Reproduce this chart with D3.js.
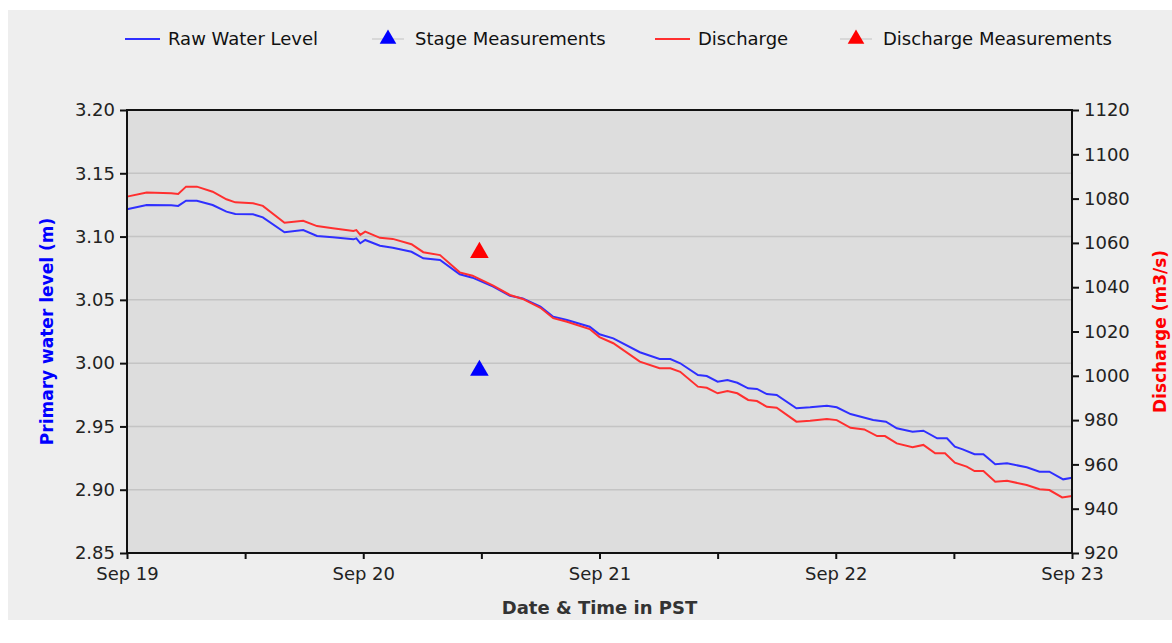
<html>
<head>
<title>Water Level and Discharge</title>
<script type="text/javascript" src="https://cdn.jsdelivr.net/npm/d3@7/dist/d3.min.js"></script>
<style type="text/css">
body { margin: 0; background: #fff; }
text { font-family: "DejaVu Sans", sans-serif; }
</style>
</head>
<body>
<script>
  // hours after Sep 19 00:00 PST
  var startDate = new Date(2011, 8, 19, 0, 0),
      endDate = new Date(2011, 8, 23, 0, 0);

  var levelHours = [0,2,4.5,5.2,6,7.1,8.7,10.1,11,12.8,13.8,16,17.9,19.3,20.9,23,23.3,23.7,24.2,25.7,27,28.9,30.1,31.8,33.8,35.1,37.2,38.9,40.2,42,43.3,44.7,47,48,49.4,52.1,54.1,55.2,56.2,58,58.9,60,61,62,63.1,64,65,66,68,69.4,71.1,72.1,73.5,75.8,77.1,78.2,79.8,80.9,82.3,83.3,84.1,84.9,86.1,87,88.2,89.4,91.4,92.7,93.7,95.1,96];
  var levelValues = [3.1216,3.1249,3.1247,3.1242,3.1283,3.1283,3.1249,3.1197,3.1178,3.1176,3.1152,3.1034,3.1052,3.1005,3.0994,3.0978,3.0986,3.0947,3.0973,3.0928,3.0912,3.0880,3.0828,3.0815,3.0702,3.0675,3.0604,3.0533,3.0512,3.0446,3.0367,3.0341,3.0288,3.0228,3.0196,3.0086,3.0033,3.0033,2.9999,2.9906,2.9898,2.9853,2.9867,2.9845,2.9801,2.9796,2.9756,2.9748,2.9643,2.9651,2.9664,2.9651,2.9598,2.9551,2.9537,2.9485,2.9458,2.9466,2.9406,2.9406,2.9340,2.9319,2.9280,2.9280,2.9201,2.9209,2.9177,2.9142,2.9142,2.9082,2.9095];

  var flowHours = [0,2,4.5,5.2,6,7.1,8.7,10.1,11,12.8,13.8,16,17.9,19.3,20.9,23,23.3,23.7,24.2,25.7,27,28.9,30.1,31.8,33.8,35.1,37.2,38.9,40.2,42,43.3,44.7,47,48,49.4,52.1,54.1,55.2,56.2,58,58.9,60,61,62,63.1,64,65,66,68,69.4,71.1,72.1,73.5,74.9,76.2,77,78.2,79.8,80.9,82.1,83.1,84.1,85.3,86.1,87,88.2,89.4,91.4,92.7,93.7,95,96];
  var flowValues = [1080.9,1082.7,1082.4,1082.1,1085.4,1085.4,1083.1,1079.7,1078.3,1077.9,1076.7,1069.1,1070.0,1067.6,1066.6,1065.4,1065.8,1063.6,1065.1,1062.3,1061.8,1059.4,1055.8,1054.5,1046.7,1045.2,1040.7,1036.5,1034.7,1030.7,1026.0,1024.4,1021.1,1017.5,1014.7,1006.4,1003.4,1003.4,1001.8,995.1,994.6,992.1,993.1,992.1,989.1,988.6,986.0,985.6,979.3,979.7,980.5,980.0,976.5,975.8,972.8,972.8,969.5,967.7,968.8,965.0,965.0,960.8,959.0,957.0,957.0,952.2,952.6,950.7,948.8,948.4,945.1,945.7];

  var stageHours = [35.8], stageValues = [2.995];
  var qmeasHours = [35.8], qmeasValues = [1056.1];

  var levelTicks = [2.85,2.90,2.95,3.00,3.05,3.10,3.15,3.20];
  var flowTicks = [920,940,960,980,1000,1020,1040,1060,1080,1100,1120];

  var legendItems = [
    {label:"Raw Water Level", color:"#2f2fff", kind:"line"},
    {label:"Stage Measurements", color:"#0000ff", kind:"tri"},
    {label:"Discharge", color:"#ff2f2f", kind:"line"},
    {label:"Discharge Measurements", color:"#ff0000", kind:"tri"}
  ];

  function toDate(h){ return new Date(startDate.getTime() + h*3600000); }

  var width = 1172, height = 643,
      plotLeft = 127, plotRight = 1072, plotTop = 110, plotBottom = 553;

  var svg = d3.select("body").append("svg").attr("width",width).attr("height",height);

  svg.append("rect").attr("x",8).attr("y",10).attr("width",width-8).attr("height",610).attr("fill","#eeeeee");

  var x = d3.scaleTime().domain([startDate,endDate]).range([plotLeft,plotRight]);
  var yL = d3.scaleLinear().domain([2.85,3.20]).range([plotBottom,plotTop]);
  var yR = d3.scaleLinear().domain([920,1120]).range([plotBottom,plotTop]);

  svg.append("rect").attr("x",plotLeft).attr("y",plotTop).attr("width",plotRight-plotLeft).attr("height",plotBottom-plotTop).attr("fill","#dddddd");

  // grid
  svg.append("g").selectAll("line").data(levelTicks.slice(1,-1)).enter().append("line")
    .attr("x1",plotLeft).attr("x2",plotRight)
    .attr("y1",function(d){return yL(d);}).attr("y2",function(d){return yL(d);})
    .attr("stroke","#c4c4c4").attr("stroke-width",1.5);

  // lines
  var levelData = levelHours.map(function(h,i){ return [toDate(h), levelValues[i]]; });
  var flowData = flowHours.map(function(h,i){ return [toDate(h), flowValues[i]]; });

  svg.append("path").datum(levelData)
    .attr("d", d3.line().x(function(d){return x(d[0]);}).y(function(d){return yL(d[1]);}))
    .attr("fill","none").attr("stroke","#2f2fff").attr("stroke-width",2);

  svg.append("path").datum(flowData)
    .attr("d", d3.line().x(function(d){return x(d[0]);}).y(function(d){return yR(d[1]);}))
    .attr("fill","none").attr("stroke","#ff2f2f").attr("stroke-width",2);

  var tri = d3.symbol().type(d3.symbolTriangle).size(150);

  svg.append("g").selectAll("path").data(stageHours).enter().append("path")
    .attr("d",tri)
    .attr("transform",function(d,i){ return "translate("+x(toDate(d))+","+(yL(stageValues[i])+1)+")"; })
    .attr("fill","#0000ff");

  svg.append("g").selectAll("path").data(qmeasHours).enter().append("path")
    .attr("d",tri)
    .attr("transform",function(d,i){ return "translate("+x(toDate(d))+","+(yR(qmeasValues[i])+1)+")"; })
    .attr("fill","#ff0000");

  // frame
  svg.append("rect").attr("x",plotLeft).attr("y",plotTop).attr("width",plotRight-plotLeft).attr("height",plotBottom-plotTop)
    .attr("fill","none").attr("stroke","#111").attr("stroke-width",2);

  // axes
  var xAxis = d3.axisBottom(x).ticks(d3.timeHour.every(12)).tickSize(6)
    .tickFormat(function(d){ return d.getHours()===0 ? d3.timeFormat("%b %d")(d) : ""; });
  var gx = svg.append("g").attr("transform","translate(0,"+plotBottom+")").call(xAxis);

  var gl = svg.append("g").attr("transform","translate("+plotLeft+",0)")
    .call(d3.axisLeft(yL).tickValues(levelTicks).tickFormat(d3.format(".2f")).tickSize(7));

  var gr = svg.append("g").attr("transform","translate("+plotRight+",0)")
    .call(d3.axisRight(yR).tickValues(flowTicks).tickFormat(d3.format("d")).tickSize(7));

  [gx,gl,gr].forEach(function(g){
    g.select(".domain").remove();
    g.selectAll(".tick line").attr("stroke","#111").attr("stroke-width",2);
    g.selectAll(".tick text").attr("fill","#222").style("font-size","18px").style("font-family","DejaVu Sans, sans-serif");
  });
  gx.selectAll(".tick text").attr("dy","1.0em");
  gl.selectAll(".tick text").attr("x",-12);
  gr.selectAll(".tick text").attr("x",12);

  // titles
  svg.append("text").attr("x",(plotLeft+plotRight)/2).attr("y",614).attr("text-anchor","middle")
    .style("font-size","18px").style("font-weight","bold").attr("fill","#333").text("Date & Time in PST");

  svg.append("text").attr("transform","translate(53,"+((plotTop+plotBottom)/2)+") rotate(-90)").attr("text-anchor","middle")
    .style("font-size","17px").style("font-weight","bold").attr("fill","#0000ff").text("Primary water level (m)");

  svg.append("text").attr("transform","translate(1166,"+((plotTop+plotBottom)/2)+") rotate(-90)").attr("text-anchor","middle")
    .style("font-size","17px").style("font-weight","bold").attr("fill","#ff0000").text("Discharge (m3/s)");

  // legend
  var legendX = [125,372,655,840];
  var lg = svg.append("g").selectAll("g").data(legendItems).enter().append("g")
    .attr("transform",function(d,i){ return "translate("+legendX[i]+",39)"; });

  lg.append("line").attr("x1",0).attr("x2",function(d){ return d.kind==="line" ? 35 : 32; })
    .attr("stroke",function(d){ return d.kind==="line" ? d.color : "#d8d8d8"; })
    .attr("stroke-width",2);
  lg.filter(function(d){ return d.kind==="tri"; }).append("path")
    .attr("d",d3.symbol().type(d3.symbolTriangle).size(120)).attr("transform","translate(16,0)")
    .attr("fill",function(d){ return d.color; });
  lg.append("text").attr("x",43).attr("y",6)
    .style("font-size","18px").attr("fill","#111").text(function(d){ return d.label; });
</script>
</body>
</html>
